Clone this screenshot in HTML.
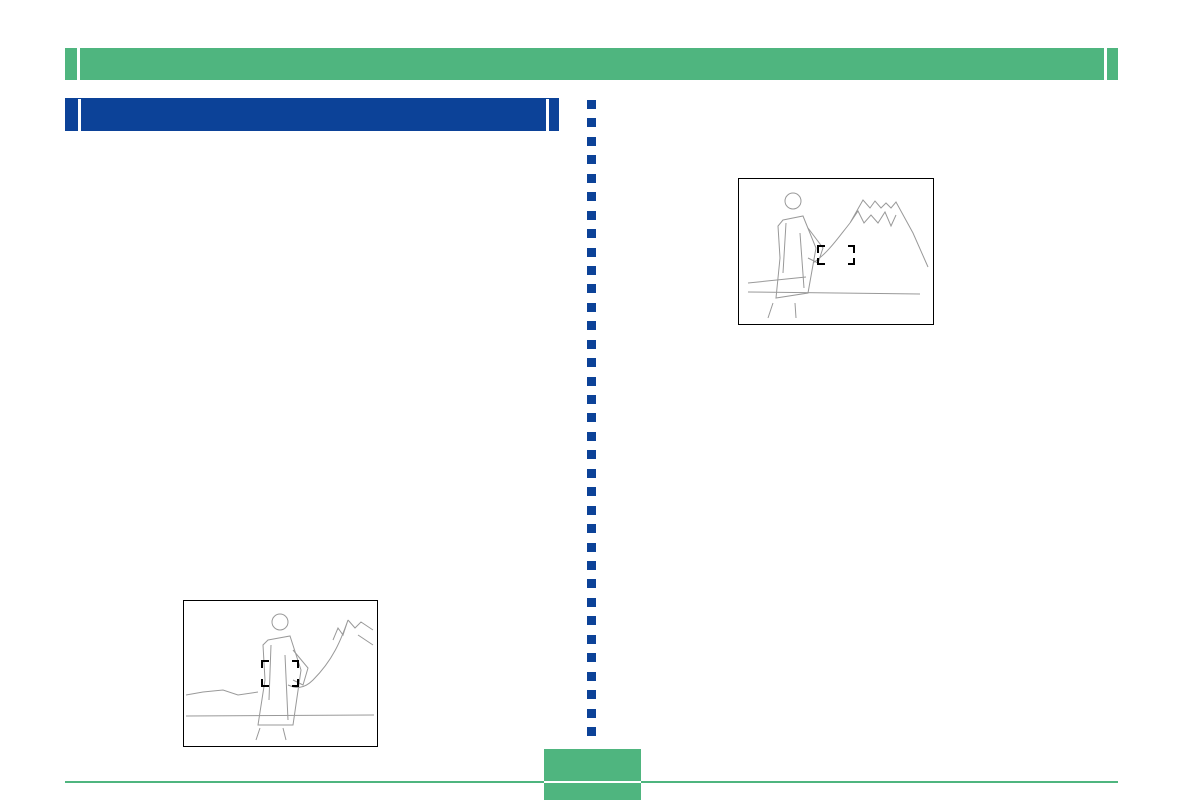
<!DOCTYPE html>
<html><head><style>
body{margin:0;width:1183px;height:800px;background:#fff;position:relative;overflow:hidden;font-family:"Liberation Sans",sans-serif}
.a{position:absolute}
</style></head><body>
<div class="a" style="left:65px;top:48px;width:1053px;height:32px;background:#4fb57f"></div>
<div class="a" style="left:77px;top:48px;width:3px;height:32px;background:#fff"></div>
<div class="a" style="left:1104px;top:48px;width:3px;height:32px;background:#fff"></div>
<div class="a" style="left:65px;top:98px;width:494px;height:33px;background:#0c4298"></div>
<div class="a" style="left:78px;top:99px;width:3px;height:32px;background:#fff"></div>
<div class="a" style="left:546px;top:99px;width:3px;height:32px;background:#fff"></div>
<div id="dots"></div>
<script>
var h='';for(var i=0;i<35;i++){h+='<div class="a" style="left:587px;top:'+Math.round(100+i*18.44)+'px;width:9px;height:9px;background:#0c4298"></div>'}
document.getElementById('dots').innerHTML=h;
</script>
<div class="a" style="left:65px;top:781px;width:1053px;height:2px;background:#4fb57f"></div>
<div class="a" style="left:544px;top:749px;width:97px;height:51px;background:#4fb57f"></div>
<div class="a" style="left:544px;top:781px;width:97px;height:2px;background:#fff"></div>

<svg class="a" style="left:738px;top:178px" width="196" height="147">
<rect x="0.5" y="0.5" width="195" height="146" fill="#fff" stroke="#000"/>
<g fill="none" stroke="#999" stroke-width="1">
<path d="M10 105 L68 99 M10 114 L182 116 M112 45 L125 22 L132 30 L137 23 L143 30 L148 25 L153 30 L158 24 L175 55 L190 89 M112 45 L120 33 L126 45 L133 37 L140 45 L147 34 L153 48 L158 37"/>
<path d="M112 45 C100 60 90 75 75 85"/>
<circle cx="55" cy="23" r="8"/>
<path d="M45 42 L65 38 L78 70 L70 115 L38 120 L42 80 L40 48 Z M48 45 L45 95 M62 55 L66 110"/>
<path d="M70 50 L85 70 L80 85 L70 80"/>
<path d="M35 125 L30 140 M57 125 L58 140"/>
</g>
<g fill="none" stroke="#000" stroke-width="2">
<path d="M87 68 L80 68 L80 75 M110 68 L116 68 L116 75 M80 80 L80 86 L87 86 M116 80 L116 86 L110 86"/>
</g>
</svg>

<svg class="a" style="left:183px;top:600px" width="195" height="147">
<rect x="0.5" y="0.5" width="194" height="146" fill="#fff" stroke="#000"/>
<g fill="none" stroke="#999" stroke-width="1">
<path d="M3 95 L20 92 L40 90 L55 95 L75 92 M3 116 L191 115 M165 20 L172 28 L178 22 L190 30 M165 20 L160 35 L155 28 L150 40 M165 20 C158 40 150 60 130 80 C120 90 112 88 105 85 M175 35 L190 45"/>
<circle cx="97" cy="22" r="8"/>
<path d="M85 40 L107 36 L118 70 L110 125 L75 125 L82 80 L80 45 Z M88 45 L86 100 M102 55 L105 120"/>
<path d="M110 50 L125 68 L120 85 L110 80"/>
<path d="M77 128 L73 140 M100 128 L103 140"/>
</g>
<g fill="none" stroke="#000" stroke-width="2">
<path d="M86 61 L79 61 L79 68 M109 61 L115 61 L115 68 M79 79 L79 86 L86 86 M115 79 L115 86 L109 86"/>
</g>
</svg>
</body></html>
